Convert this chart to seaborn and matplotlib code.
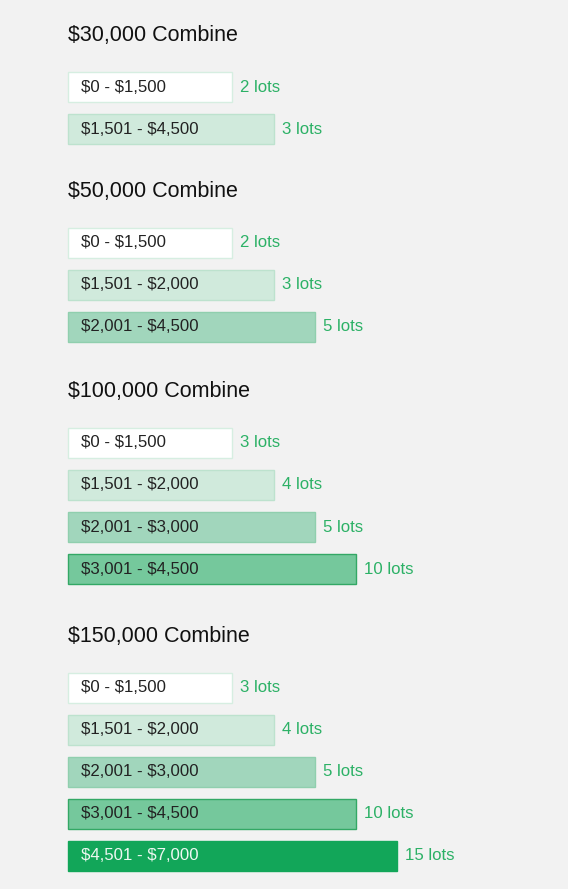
import numpy as np
import matplotlib.pyplot as plt
import pandas as pd
import seaborn as sns

# Data
plans = ['$30,000 Combine', '$50,000 Combine', '$100,000 Combine', '$150,000 Combine']
ranges = ['$0 - $1,500', '$1,501 - $2,000', '$2,001 - $3,000', '$3,001 - $4,500', '$4,501 - $7,000']
ranges_30k = ['$0 - $1,500', '$1,501 - $4,500']
ranges_50k = ['$0 - $1,500', '$1,501 - $2,000', '$2,001 - $4,500']
ranges_100k = ['$0 - $1,500', '$1,501 - $2,000', '$2,001 - $3,000', '$3,001 - $4,500']
ranges_150k = ranges
lots_30k = [2, 3]
lots_50k = [2, 3, 5]
lots_100k = [3, 4, 5, 10]
lots_150k = [3, 4, 5, 10, 15]
# bar length grows one step per tier
bar_len = [4, 5, 6, 7, 8]

fill_colors = ['#ffffff', '#d0eadc', '#a1d6bc', '#75c89c', '#12a659']
edge_colors = ['#d6eee1', '#bde2ce', '#90cfae', '#33a865', '#12a659']
text_colors = ['#222222', '#222222', '#222222', '#222222', '#eef8f2']
lots_color = '#2cb166'

# Layout (pixels)
W, H = 568, 889
x0 = 68
unit = 41.1
bar_h = 30
row_step = 42.1

rows = []
title_y = []
y = 34
for plan, rngs, lots in zip(plans, [ranges_30k, ranges_50k, ranges_100k, ranges_150k],
                            [lots_30k, lots_50k, lots_100k, lots_150k]):
    title_y.append(y)
    yb = y + 53
    for i, (r, n) in enumerate(zip(rngs, lots)):
        rows.append({'plan': plan, 'range': r, 'lots': n, 'tier': i,
                     'length': bar_len[i], 'ypos': yb + i * row_step})
    # space before next heading grows a little with group size
    y = yb + (len(rngs) - 1) * row_step + 58 + 2.5 * (len(rngs) - 1)
df = pd.DataFrame(rows)

sns.set_style('white')
plt.rcParams['font.family'] = ['Liberation Sans', 'DejaVu Sans']

fig = plt.figure(figsize=(W / 100, H / 100), dpi=100)
fig.patch.set_facecolor('#f2f2f2')
ax = fig.add_axes([0, 0, 1, 1])
ax.set_facecolor('#f2f2f2')

sns.barplot(data=df, x='length', y='ypos', hue='tier', palette=fill_colors,
            orient='h', native_scale=True, dodge=False, width=bar_h / row_step,
            saturation=1, errorbar=None, legend=False, linewidth=1, ax=ax)

# edge colour per tier, matched by face colour
face_to_edge = {tuple(np.round(plt.matplotlib.colors.to_rgb(f), 3)): e
                for f, e in zip(fill_colors, edge_colors)}
for p in ax.patches:
    key = tuple(np.round(p.get_facecolor()[:3], 3))
    p.set_edgecolor(face_to_edge.get(key, 'none'))

ax.set_xlim(-x0 / unit, (W - x0) / unit)
ax.set_ylim(H, 0)
ax.axis('off')

for plan, ty in zip(plans, title_y):
    ax.text(0, ty + 1.5, plan, fontsize=15.5, color='#111111', va='center', ha='left',
            parse_math=False)

for _, r in df.iterrows():
    ax.text(13 / unit, r['ypos'], r['range'], fontsize=12.1, va='center', ha='left',
            color=text_colors[r['tier']], parse_math=False)
    ax.text(r['length'] + 8 / unit, r['ypos'], f"{r['lots']} lots", fontsize=12.1,
            va='center', ha='left', color=lots_color)

fig.savefig('out.png', dpi=100, facecolor=fig.get_facecolor())
